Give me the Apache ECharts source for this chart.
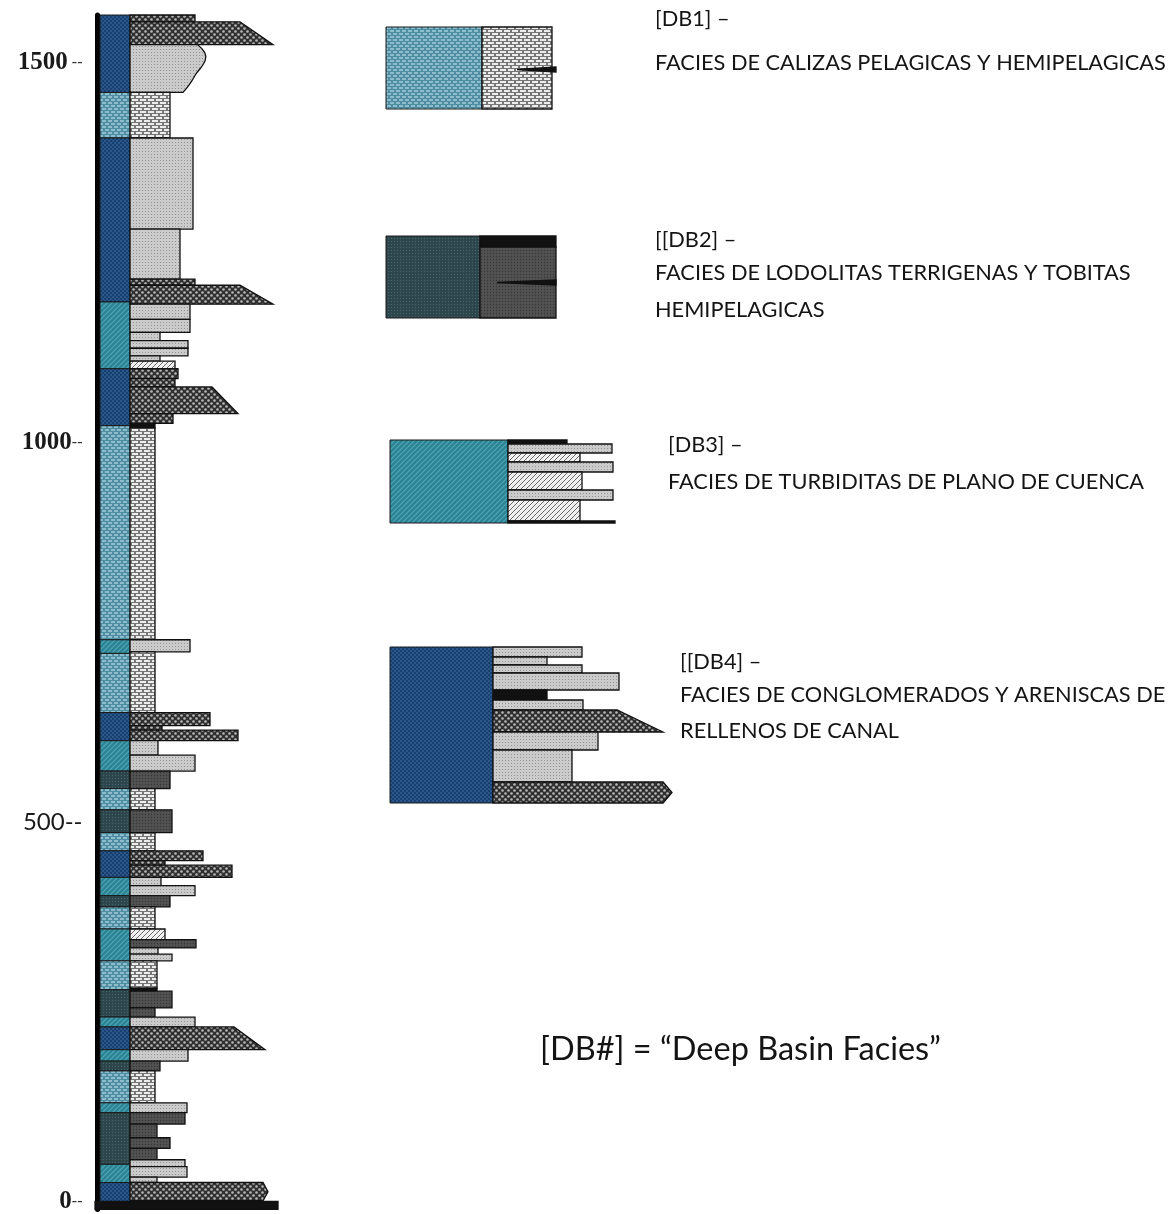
<!DOCTYPE html>
<html>
<head>
<meta charset="utf-8">
<script src="https://cdn.jsdelivr.net/npm/echarts@6/dist/echarts.min.js"></script>
<style>
  html, body { margin: 0; padding: 0; background: #ffffff; }
  #chart { width: 1169px; height: 1214px; }
</style>
</head>
<body>
<div id="chart"></div>
<script>
// Depth labels of the section (m)
const depthTicks = [0, 500, 1000, 1500];

// Facies intervals of the composite section: [top, base, facies]
const sectionFacies = [
  [1563, 1461, 'DB4'], [1461, 1401, 'DB1'], [1401, 1185, 'DB4'], [1185, 1097, 'DB3'],
  [1097, 1022, 'DB4'], [1022, 740, 'DB1'], [740, 722, 'DB3'], [722, 644, 'DB1'],
  [644, 607, 'DB4'], [607, 567, 'DB3'], [567, 544, 'DB2'], [544, 516, 'DB1'],
  [516, 486, 'DB2'], [486, 462, 'DB1'], [462, 427, 'DB4'], [427, 403, 'DB3'],
  [403, 388, 'DB2'], [388, 359, 'DB1'], [359, 317, 'DB3'], [317, 279, 'DB1'],
  [279, 243, 'DB2'], [243, 230, 'DB3'], [230, 200, 'DB4'], [200, 185, 'DB3'],
  [185, 172, 'DB2'], [172, 130, 'DB1'], [130, 117, 'DB3'], [117, 49, 'DB2'],
  [49, 25, 'DB3'], [25, 0, 'DB4']
];

// Lithology beds: [top, base, lithology, profile width, width at base | lens start, edge shape]
// L limestone, S sandstone, R laminated sandstone, M mudstone, C conglomerate, K black bed
const sectionLitho = [
  [1563, 1554, 'C', 95], [1554, 1524, 'C', 140, 173], [1524, 1461, 'S', 105, 83, 'round'],
  [1461, 1401, 'L', 70], [1401, 1281, 'S', 93], [1281, 1215, 'S', 80],
  [1215, 1207, 'C', 95], [1207, 1182, 'C', 140, 173],
  [1182, 1162, 'S', 90], [1162, 1145, 'S', 90], [1145, 1134, 'S', 60], [1134, 1124, 'S', 88],
  [1124, 1114, 'S', 88], [1114, 1107, 'S', 60], [1107, 1097, 'R', 75],
  [1097, 1084, 'C', 78], [1084, 1073, 'C', 75], [1073, 1038, 'C', 112, 138], [1038, 1025, 'C', 73],
  [1025, 1019, 'K', 55], [1019, 740, 'L', 55], [740, 724, 'S', 90], [724, 644, 'L', 55],
  [644, 627, 'C', 110], [627, 621, 'C', 62], [621, 607, 'C', 138],
  [607, 588, 'S', 58], [588, 567, 'S', 95], [567, 544, 'M', 70], [544, 516, 'L', 55],
  [516, 486, 'M', 72], [486, 462, 'L', 55],
  [462, 449, 'C', 103], [449, 443, 'C', 65], [443, 427, 'C', 132],
  [427, 416, 'S', 61], [416, 403, 'S', 95], [403, 388, 'M', 70], [388, 359, 'L', 55],
  [359, 345, 'R', 65], [345, 334, 'M', 96], [334, 326, 'S', 58], [326, 317, 'S', 72],
  [317, 281, 'L', 57], [281, 277, 'K', 57], [277, 255, 'M', 72], [255, 243, 'M', 55],
  [243, 230, 'S', 95], [230, 200, 'C', 134, 165], [200, 185, 'S', 88], [185, 172, 'M', 60],
  [172, 130, 'L', 55], [130, 117, 'S', 87],
  [117, 102, 'M', 85], [102, 84, 'M', 57], [84, 70, 'M', 70], [70, 55, 'M', 57],
  [55, 46, 'S', 85], [46, 32, 'S', 87], [32, 25, 'S', 57],
  [25, 1, 'C', 163, 168, 'mid'],
  [0, -10.5, 'K', 178, null, 'base']
];

// Facies key blocks (schematic thickness units)
const keyDB1Facies = [[82, 0, 'DB1']];
const keyDB1Litho = [[82, 0, 'L', 166], [42, 37, 'K', 170, 131, 'lens']];
const keyDB2Facies = [[82, 0, 'DB2']];
const keyDB2Litho = [[82, 71, 'K', 170], [71, 0, 'M', 170], [38, 33, 'K', 170, 111, 'lens']];
const keyDB3Facies = [[83, 0, 'DB3']];
const keyDB3Litho = [
  [83, 79, 'K', 177], [79, 70, 'S', 222], [70, 61, 'R', 190], [61, 51, 'S', 223],
  [51, 33, 'R', 192], [33, 23, 'S', 223], [23, 2, 'R', 190], [2, 0, 'K', 225]
];
const keyDB4Facies = [[156, 0, 'DB4']];
const keyDB4Litho = [
  [156, 146, 'S', 192], [146, 138, 'S', 157], [138, 130, 'S', 192], [130, 113, 'S', 229],
  [113, 103, 'K', 157], [103, 93, 'S', 193], [93, 71, 'C', 227, 273], [71, 53, 'S', 208],
  [53, 21, 'S', 182], [21, 0, 'C', 273, 282, 'mid']
];

const keyTitles = ['[DB1] –', '[[DB2] –', '[DB3] –', '[[DB4] –'];
const keyDescriptions = [
  ['FACIES DE CALIZAS PELAGICAS Y HEMIPELAGICAS'],
  ['FACIES DE LODOLITAS TERRIGENAS Y TOBITAS', 'HEMIPELAGICAS'],
  ['FACIES DE TURBIDITAS DE PLANO DE CUENCA'],
  ['FACIES DE CONGLOMERADOS Y ARENISCAS DE', 'RELLENOS DE CANAL']
];
const noteText = '[DB#] = “Deep Basin Facies”';

// ---- fill textures ----
function tile(w, h, paint) {
  const c = document.createElement('canvas');
  c.width = w; c.height = h;
  paint(c.getContext('2d'), w, h);
  return { image: c, repeat: 'repeat' };
}
function bricks(bg, fg, w, h, bw, bh) {
  return tile(w, h, g => {
    g.fillStyle = bg; g.fillRect(0, 0, w, h);
    g.fillStyle = fg;
    g.fillRect(0, 0, bw, bh);
    const off = w / 2;
    g.fillRect(off, h / 2, bw, bh);
    g.fillRect(off - w, h / 2, bw, bh);
  });
}
function dots(bg, fg, w, h, r, stagger) {
  return tile(w, h, g => {
    g.fillStyle = bg; g.fillRect(0, 0, w, h);
    g.fillStyle = fg;
    const pts = stagger ? [[w / 4, h / 4], [3 * w / 4, 3 * h / 4]] : [[w / 2, h / 2]];
    pts.forEach(p => { g.beginPath(); g.arc(p[0], p[1], r, 0, Math.PI * 2); g.fill(); });
  });
}
function hatch(bg, fg, w, lw) {
  return tile(w, w, g => {
    g.fillStyle = bg; g.fillRect(0, 0, w, w);
    g.strokeStyle = fg; g.lineWidth = lw;
    [[-w, w, w, -w], [0, 2 * w, 2 * w, 0], [0, w, w, 0]].forEach(s => {
      g.beginPath(); g.moveTo(s[0], s[1]); g.lineTo(s[2], s[3]); g.stroke();
    });
  });
}

const fills = {
  DB1: bricks('#4f8da2', '#8dbdcb', 6, 6, 4, 2),
  DB2: dots('#2c454b', '#46646b', 3, 3, 0.7, false),
  DB3: hatch('#2a8494', '#52a5b4', 5, 1.2),
  DB4: dots('#193f6d', '#33649c', 4, 4, 0.9, true),
  L: bricks('#777777', '#ececec', 8, 6, 6, 2),
  S: dots('#cbcbcb', '#8c8c8c', 3, 3, 0.55, false),
  R: hatch('#f0f0f0', '#6a6a6a', 5, 1),
  M: dots('#525252', '#363636', 3, 3, 0.7, false),
  C: dots('#303030', '#b8b8b8', 6, 6, 1.3, true),
  K: '#111111'
};

// ---- column builders ----
function faciesSeries(b, i) {
  return {
    type: 'custom', xAxisIndex: i, yAxisIndex: i, clip: false, silent: true, animation: false,
    data: b.facies.map(r => [r[0], r[1]]),
    encode: { y: [0, 1] },
    renderItem: (params, api) => {
      const code = b.facies[params.dataIndex][2];
      const p0 = api.coord([0, api.value(0)]);
      const p1 = api.coord([b.fw, api.value(1)]);
      return {
        type: 'rect',
        shape: { x: p0[0], y: p0[1], width: p1[0] - p0[0], height: p1[1] - p0[1] },
        style: { fill: fills[code], stroke: '#1a1a1a', lineWidth: 1 }
      };
    }
  };
}

function lithoSeries(b, i) {
  return {
    type: 'custom', xAxisIndex: i, yAxisIndex: i, clip: false, silent: true, animation: false,
    data: b.litho.map(r => [r[0], r[1], r[3], r[4] == null ? r[3] : r[4]]),
    encode: { x: [2, 3], y: [0, 1] },
    renderItem: (params, api) => {
      const r = b.litho[params.dataIndex];
      const top = api.value(0), base = api.value(1), w = api.value(2), w2 = api.value(3);
      const shape = r[5];
      const x0 = shape === 'base' ? -5 : b.fw;
      const mid = (top + base) / 2;
      let pts;
      if (shape === 'mid') pts = [[x0, top], [w, top], [w2, mid], [w, base], [x0, base]];
      else if (shape === 'lens') pts = [[w2, mid], [w, top], [w, base]];
      else if (shape === 'round') {
        // bulging bed margin that narrows toward its base
        pts = [[x0, top]];
        for (let k = 0; k <= 12; k++) {
          const t = k / 12;
          const bulge = Math.sin(Math.PI * Math.min(1, t * 1.6)) * 0.12 * (w - x0);
          pts.push([w - (w - w2) * t * t + bulge * (1 - t) - 0.1 * (w - x0) * (1 - t) * (1 - t), top + (base - top) * t]);
        }
        pts.push([x0, base]);
      }
      else pts = [[x0, top], [w, top], [w2, base], [x0, base]];
      return {
        type: 'polygon',
        shape: { points: pts.map(p => api.coord(p)) },
        style: { fill: fills[r[2]], stroke: '#111111', lineWidth: 1.3, lineJoin: 'miter' }
      };
    }
  };
}

const blocks = [
  { grid: { left: 100, top: 15, width: 180, height: 1198 }, x: [0, 180], y: [-10.5, 1563],
    facies: sectionFacies, litho: sectionLitho, fw: 30 },
  { grid: { left: 386, top: 27, width: 170, height: 82 }, x: [0, 170], y: [0, 82],
    facies: keyDB1Facies, litho: keyDB1Litho, fw: 96 },
  { grid: { left: 386, top: 236, width: 170, height: 82 }, x: [0, 170], y: [0, 82],
    facies: keyDB2Facies, litho: keyDB2Litho, fw: 94 },
  { grid: { left: 390, top: 440, width: 225, height: 83 }, x: [0, 225], y: [0, 83],
    facies: keyDB3Facies, litho: keyDB3Litho, fw: 118 },
  { grid: { left: 390, top: 647, width: 282, height: 156 }, x: [0, 282], y: [0, 156],
    facies: keyDB4Facies, litho: keyDB4Litho, fw: 103 }
];

const grids = [], xAxes = [], yAxes = [], series = [];
blocks.forEach((b, i) => {
  grids.push(b.grid);
  xAxes.push({ type: 'value', gridIndex: i, min: b.x[0], max: b.x[1], show: false });
  if (i === 0) {
    yAxes.push({
      type: 'value', gridIndex: 0, min: b.y[0], max: b.y[1], offset: 2.5, position: 'left',
      axisLine: { show: true, onZero: false, lineStyle: { color: '#000000', width: 5 } },
      axisTick: { show: false },
      splitLine: { show: false },
      axisLabel: {
        customValues: depthTicks,
        margin: 15,
        formatter: v => v === 500 ? `{s|${v}--}` : `{n|${v}}{d|${v === 1500 ? ' --' : '--'}}`,
        rich: {
          n: { fontFamily: 'Liberation Serif', fontWeight: 'bold', fontSize: 25, color: '#1a1a1a' },
          d: { fontFamily: 'Liberation Serif', fontSize: 16, color: '#333333' },
          s: { fontFamily: 'Lato', fontSize: 24, color: '#1a1a1a' }
        }
      }
    });
  } else {
    yAxes.push({ type: 'value', gridIndex: i, min: b.y[0], max: b.y[1], show: false });
  }
  series.push(faciesSeries(b, i), lithoSeries(b, i));
});

// ---- key text ----
const keyTextX = [655, 655, 668, 680];
const keyTitleY = [19, 240, 445, 662];
const keyLineY = [[63], [273, 310], [482], [695, 731]];

// Size the key lettering so the longest caption runs to the right page edge
const probe = document.createElement('canvas').getContext('2d');
probe.font = '24px Lato';
const keySize = 24 * (1166 - keyTextX[0]) / probe.measureText(keyDescriptions[0][0]).width;
const textFont = keySize.toFixed(2) + 'px Lato';

const texts = [];
keyTitles.forEach((t, k) => {
  texts.push({ type: 'text', style: { text: t, x: keyTextX[k], y: keyTitleY[k], font: textFont,
    fill: '#141414', verticalAlign: 'middle' } });
  keyDescriptions[k].forEach((line, j) => {
    texts.push({ type: 'text', style: { text: line, x: keyTextX[k], y: keyLineY[k][j],
      font: textFont, fill: '#141414', verticalAlign: 'middle' } });
  });
});
texts.push({ type: 'text', style: { text: noteText, x: 540, y: 1050, font: '32.5px Lato',
  fill: '#141414', verticalAlign: 'middle' } });

const chart = echarts.init(document.getElementById('chart'), null, { renderer: 'canvas' });
chart.setOption({
  animation: false,
  backgroundColor: '#ffffff',
  grid: grids,
  xAxis: xAxes,
  yAxis: yAxes,
  series: series,
  graphic: { elements: texts }
});
</script>
</body>
</html>
